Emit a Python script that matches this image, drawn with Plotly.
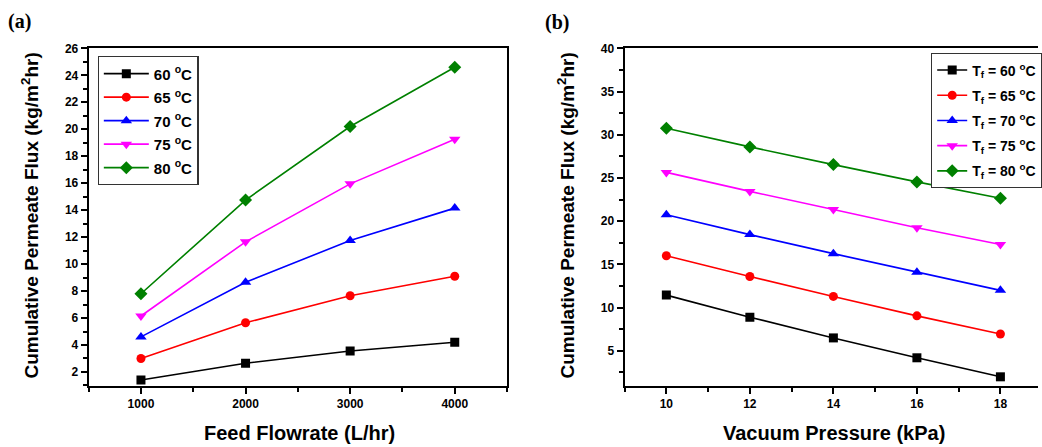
import plotly.graph_objects as go

# ---- data ----
flowrate = [1000, 2000, 3000, 4000]
flux_a_60 = [1.4, 2.65, 3.55, 4.2]
flux_a_65 = [3.0, 5.65, 7.65, 9.1]
flux_a_70 = [4.6, 8.65, 11.75, 14.15]
flux_a_75 = [6.15, 11.65, 15.95, 19.25]
flux_a_80 = [7.8, 14.75, 20.2, 24.6]

pressure = [10, 12, 14, 16, 18]
flux_b_60 = [11.45, 8.9, 6.5, 4.2, 2.0]
flux_b_65 = [16.0, 13.6, 11.3, 9.05, 6.95]
flux_b_70 = [20.75, 18.45, 16.25, 14.1, 12.0]
flux_b_75 = [25.65, 23.45, 21.35, 19.25, 17.3]
flux_b_80 = [30.75, 28.6, 26.55, 24.55, 22.65]

temps = ["60", "65", "70", "75", "80"]
colors = ["#000000", "#ff0000", "#0000ff", "#ff00ff", "#008000"]
symbols = ["square", "circle", "triangle-up", "triangle-down", "diamond"]
msizes = [9, 9, 10, 10, 10]

series_a = [flux_a_60, flux_a_65, flux_a_70, flux_a_75, flux_a_80]
series_b = [flux_b_60, flux_b_65, flux_b_70, flux_b_75, flux_b_80]

FONT = "Liberation Sans"

fig = go.Figure()
for t, c, s, ms, ys in zip(temps, colors, symbols, msizes, series_a):
    fig.add_trace(go.Scatter(
        x=flowrate, y=ys, mode="lines+markers", name=f"{t} <sup>o</sup>C",
        line=dict(color=c, width=1.6), marker=dict(symbol=s, size=ms, color=c),
        legendgroup="a" + t,
        xaxis="x", yaxis="y", legend="legend"))
for t, c, s, ms, ys in zip(temps, colors, symbols, msizes, series_b):
    fig.add_trace(go.Scatter(
        x=pressure, y=ys, mode="lines+markers", name=f"T<sub>f</sub> = {t} <sup>o</sup>C",
        line=dict(color=c, width=1.6), marker=dict(symbol=s, size=ms, color=c),
        legendgroup="b" + t,
        xaxis="x2", yaxis="y2", legend="legend2"))

tickfont = dict(family=FONT, size=12, color="black", weight="bold")
axcommon = dict(showline=True, linecolor="black", linewidth=2,
                ticks="outside", tickcolor="black", tickwidth=1.5, ticklen=6,
                showgrid=False, zeroline=False, tickfont=tickfont)

ya_dom = [(447 - 385) / 447, (447 - 42) / 447]
fig.update_layout(
    width=1042, height=447,
    margin=dict(l=0, r=0, t=0, b=0),
    paper_bgcolor="white", plot_bgcolor="white",
    xaxis=dict(domain=[89 / 1042, 509 / 1042], range=[500, 4500], anchor="y", mirror=True,
               tickvals=[1000, 2000, 3000, 4000],
               minor=dict(tickvals=[500, 1500, 2500, 3500, 4500], ticks="outside", ticklen=4, tickcolor="black"),
               **axcommon),
    yaxis=dict(domain=ya_dom, range=[0.96, 26], anchor="x", mirror=True,
               tickvals=list(range(2, 27, 2)),
               minor=dict(tickvals=list(range(1, 27, 2)), ticks="outside", ticklen=4, tickcolor="black"),
               **axcommon),
    xaxis2=dict(domain=[627 / 1042, 1.0], range=[9, 18.9], anchor="y2", mirror=True,
                tickvals=[10, 12, 14, 16, 18],
                minor=dict(tickvals=[9, 11, 13, 15, 17], ticks="outside", ticklen=4, tickcolor="black"),
                **axcommon),
    yaxis2=dict(domain=ya_dom, range=[0.94, 40], anchor="x2", mirror=False,
                tickvals=[5, 10, 15, 20, 25, 30, 35, 40],
                minor=dict(tickvals=[2.5, 7.5, 12.5, 17.5, 22.5, 27.5, 32.5, 37.5], ticks="outside", ticklen=4, tickcolor="black"),
                **axcommon),
    legend=dict(x=98 / 1042, y=(447 - 50) / 447, xanchor="left", yanchor="top",
                bordercolor="#333333", borderwidth=1.2, bgcolor="white",
                font=dict(family=FONT, size=15, color="black", weight="bold"),
                tracegroupgap=1, itemwidth=45),
    legend2=dict(x=935 / 1042, y=(447 - 47) / 447, xanchor="left", yanchor="top",
                 bordercolor="#333333", borderwidth=1.2, bgcolor="white",
                 font=dict(family=FONT, size=14, color="black", weight="bold"),
                 tracegroupgap=4, itemwidth=30),
)

title_font = dict(family=FONT, size=19, color="black", weight="bold")
annots = [
    dict(text="(a)", x=6 / 1042, y=(447 - 15) / 447, xanchor="left", yanchor="middle",
         font=dict(family="Liberation Serif", size=20, color="black", weight="bold")),
    dict(text="(b)", x=545 / 1042, y=(447 - 16) / 447, xanchor="left", yanchor="middle",
         font=dict(family="Liberation Serif", size=20, color="black", weight="bold")),
    dict(text="Feed Flowrate (L/hr)", x=301 / 1042, y=(447 - 433) / 447,
         xanchor="center", yanchor="middle", font=dict(family=FONT, size=20, color="black", weight="bold")),
    dict(text="Vacuum Pressure (kPa)", x=837 / 1042, y=(447 - 433) / 447,
         xanchor="center", yanchor="middle", font=dict(family=FONT, size=20, color="black", weight="bold")),
    dict(text="Cumulative Permeate Flux (kg/m<sup>2</sup>hr)", x=30 / 1042, y=(447 - 212) / 447,
         xanchor="center", yanchor="middle", textangle=-90, font=title_font),
    dict(text="Cumulative Permeate Flux (kg/m<sup>2</sup>hr)", x=568 / 1042, y=(447 - 212) / 447,
         xanchor="center", yanchor="middle", textangle=-90, font=title_font),
]
for a in annots:
    fig.add_annotation(xref="paper", yref="paper", showarrow=False, **a)

fig.write_html("out.html", config={"displayModeBar": False},
               post_script="document.body.style.margin='0';document.body.style.overflow='hidden';")
